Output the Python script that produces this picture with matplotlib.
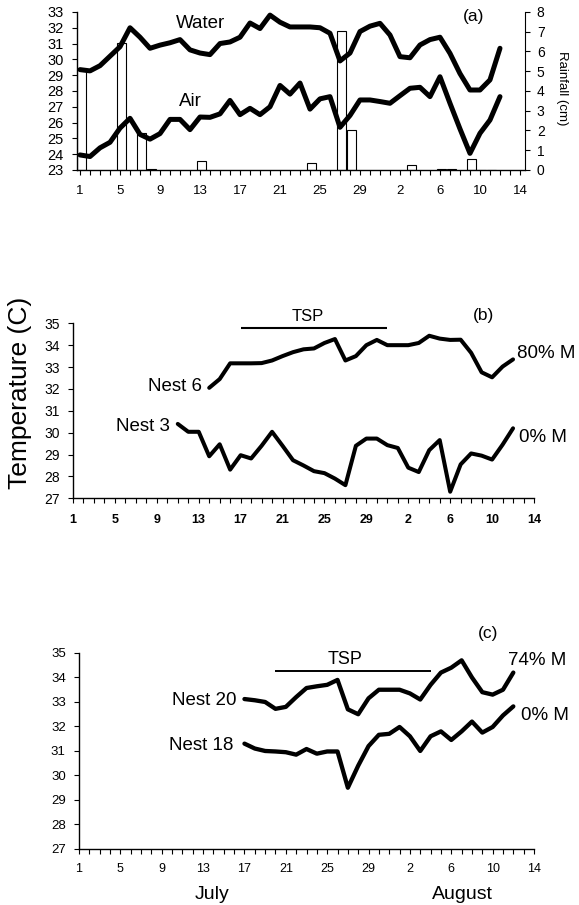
import numpy as np
import matplotlib.pyplot as plt
from matplotlib.ticker import MultipleLocator

plt.rcParams['font.family'] = ['Liberation Sans', 'DejaVu Sans']

# day index: 0 = July 1, 31 = Aug 1
tick_days = np.arange(0, 45, 4)
tick_labels = ['1', '5', '9', '13', '17', '21', '25', '29', '2', '6', '10', '14']

# (a) water / air temperature and rainfall
days_a = np.arange(43)
water = [29.35, 29.27, 29.6, 30.2, 30.8, 32.0, 31.4, 30.7, 30.9, 31.05,
         31.25, 30.6, 30.4, 30.3, 31.0, 31.1, 31.4, 32.3, 31.95, 32.8,
         32.35, 32.05, 32.05, 32.05, 32.0, 31.65, 29.9, 30.4, 31.76, 32.1,
         32.28, 31.54, 30.17, 30.1, 30.91, 31.25, 31.4, 30.38, 29.1, 28.06,
         28.06, 28.7, 30.7]
air = [23.95, 23.85, 24.4, 24.75, 25.65, 26.27, 25.25, 24.95, 25.3, 26.2,
       26.2, 25.55, 26.35, 26.33, 26.55, 27.4, 26.5, 26.9, 26.5, 27.0,
       28.35, 27.8, 28.5, 26.85, 27.5, 27.64, 25.7, 26.45, 27.43, 27.43,
       27.33, 27.22, 27.7, 28.17, 28.23, 27.64, 28.9, 27.22, 25.6, 24.05,
       25.32, 26.16, 27.64]
rain_days = np.array([0, 4, 6, 7, 12, 23, 26, 27, 33, 36, 37, 39, 40, 41])
rain_cm = [5.1, 6.45, 1.86, 0.05, 0.45, 0.33, 7.05, 2.03, 0.24, 0.06, 0.06, 0.54, 0.02, 0.02]

# (b) nests 6 and 3
days_n6 = np.arange(13, 43)
nest6 = [32.05, 32.45, 33.17, 33.17, 33.17, 33.18, 33.3, 33.5, 33.68, 33.81,
         33.85, 34.1, 34.28, 33.3, 33.5, 34.0, 34.24, 34.0, 34.0, 34.0,
         34.1, 34.43, 34.3, 34.24, 34.25, 33.65, 32.76, 32.53, 33.02, 33.35]
days_n3 = np.arange(10, 43)
nest3 = [30.4, 30.04, 30.04, 28.92, 29.47, 28.31, 28.97, 28.82, 29.4, 30.04,
         29.4, 28.74, 28.5, 28.24, 28.15, 27.9, 27.6, 29.4, 29.73, 29.73,
         29.43, 29.3, 28.4, 28.2, 29.2, 29.66, 27.3, 28.55, 29.05, 28.95,
         28.77, 29.45, 30.2]
tsp_b = [16, 30]

# (c) nests 20 and 18
days_c = np.arange(16, 43)
nest20 = [33.12, 33.07, 33.0, 32.72, 32.8, 33.2, 33.57, 33.64, 33.7, 33.9,
          32.7, 32.5, 33.15, 33.5, 33.5, 33.5, 33.35, 33.1, 33.7, 34.2,
          34.4, 34.7, 34.0, 33.4, 33.3, 33.5, 34.2]
nest18 = [31.3, 31.1, 31.0, 30.98, 30.95, 30.85, 31.08, 30.89, 30.98, 30.98,
          29.5, 30.4, 31.2, 31.66, 31.7, 31.98, 31.6, 31.0, 31.6, 31.8,
          31.45, 31.8, 32.2, 31.75, 31.98, 32.45, 32.82]
tsp_c = [19, 34]

line_kw = dict(color='black', solid_joinstyle='round', solid_capstyle='round')


def setup(ax, xlim, xsize, xpad, ysize, xweight='normal'):
    ax.set_xlim(*xlim)
    ax.set_xticks(tick_days)
    ax.set_xticklabels(tick_labels, fontsize=xsize, fontweight=xweight)
    ax.xaxis.set_minor_locator(MultipleLocator(1))
    ax.tick_params(axis='x', which='both', direction='out', length=3.5, width=0.8, pad=xpad)
    ax.tick_params(axis='y', direction='out', length=3.5, width=0.8, pad=6, labelsize=ysize)
    for s in ['top', 'right']:
        ax.spines[s].set_visible(False)
    for s in ['left', 'bottom']:
        ax.spines[s].set_linewidth(1.0)


fig = plt.figure(figsize=(5.79, 9.05), dpi=100)

# ---- panel (a)
ax_a = fig.add_axes([0.1330, 0.8122, 0.7737, 0.1746])
ax_r = ax_a.twinx()
ax_r.bar(rain_days + 0.17, rain_cm, width=0.9, color='white', edgecolor='black', linewidth=0.8)
ax_r.set_ylim(0, 8)
ax_r.set_yticks(range(0, 9))
ax_r.tick_params(axis='y', direction='out', length=3.5, width=0.8, pad=5, labelsize=10)
for s in ['top', 'left', 'bottom']:
    ax_r.spines[s].set_visible(False)
ax_r.set_ylabel('Rainfall (cm)', rotation=270, va='center', fontsize=9.5)
ax_r.yaxis.set_label_coords(1.082, 0.517)
ax_a.set_zorder(ax_r.get_zorder() + 1)
ax_a.patch.set_visible(False)

ax_a.plot(days_a, water, lw=3.6, **line_kw)
ax_a.plot(days_a, air, lw=3.6, **line_kw)
ax_a.set_ylim(23, 33)
ax_a.set_yticks(range(23, 34))
setup(ax_a, (-0.3, 44.5), 9.5, 7.5, 10.5)
ax_a.text(12.1, 31.97, 'Water', ha='center', va='baseline', fontsize=13.5)
ax_a.text(11.0, 27.05, 'Air', ha='center', va='baseline', fontsize=13.5)
ax_a.text(39.4, 32.45, '(a)', ha='center', va='baseline', fontsize=12.5)

# ---- panel (b)
ax_b = fig.add_axes([73 / 579, 0.4494, 461 / 579, 175 / 905])
ax_b.plot(days_n6, nest6, lw=2.9, **line_kw)
ax_b.plot(days_n3, nest3, lw=2.9, **line_kw)
ax_b.hlines(34.77, tsp_b[0], tsp_b[1], color='black', lw=1.5)
ax_b.set_ylim(27, 35)
ax_b.set_yticks(range(27, 36))
setup(ax_b, (0, 44), 9, 7.5, 10, xweight='bold')
ax_b.text(22.4, 35.1, 'TSP', ha='center', va='baseline', fontsize=12)
ax_b.text(39.2, 35.15, '(b)', ha='center', va='baseline', fontsize=12.5)
ax_b.text(42.4, 33.4, '80% M', ha='left', va='baseline', fontsize=13.5)
ax_b.text(42.6, 29.58, '0% M', ha='left', va='baseline', fontsize=13.5)
ax_b.text(12.3, 31.92, 'Nest 6', ha='right', va='baseline', fontsize=13.5)
ax_b.text(9.25, 30.07, 'Nest 3', ha='right', va='baseline', fontsize=13.5)

# ---- panel (c)
ax_c = fig.add_axes([79 / 579, 0.0619, 455 / 579, 196 / 905])
ax_c.plot(days_c, nest20, lw=3.1, **line_kw)
ax_c.plot(days_c, nest18, lw=3.1, **line_kw)
ax_c.hlines(34.25, tsp_c[0], tsp_c[1], color='black', lw=1.4)
ax_c.set_ylim(27, 35)
ax_c.set_yticks(range(27, 36))
setup(ax_c, (0, 44), 9, 6.5, 9.5)
ax_c.text(25.7, 34.55, 'TSP', ha='center', va='baseline', fontsize=13)
ax_c.text(39.6, 35.6, '(c)', ha='center', va='baseline', fontsize=12.5)
ax_c.text(41.5, 34.52, '74% M', ha='left', va='baseline', fontsize=13.5)
ax_c.text(42.7, 32.28, '0% M', ha='left', va='baseline', fontsize=13.5)
ax_c.text(15.2, 32.89, 'Nest 20', ha='right', va='baseline', fontsize=13.5)
ax_c.text(14.9, 31.05, 'Nest 18', ha='right', va='baseline', fontsize=13.5)

fig.text(20.5 / 579, 0.566, 'Temperature (C)', rotation=90, ha='center', va='center', fontsize=19)
fig.text(212 / 579, 6 / 905, 'July', ha='center', va='baseline', fontsize=14)
fig.text(462 / 579, 6 / 905, 'August', ha='center', va='baseline', fontsize=14)

fig.savefig('out.png', dpi=100)
